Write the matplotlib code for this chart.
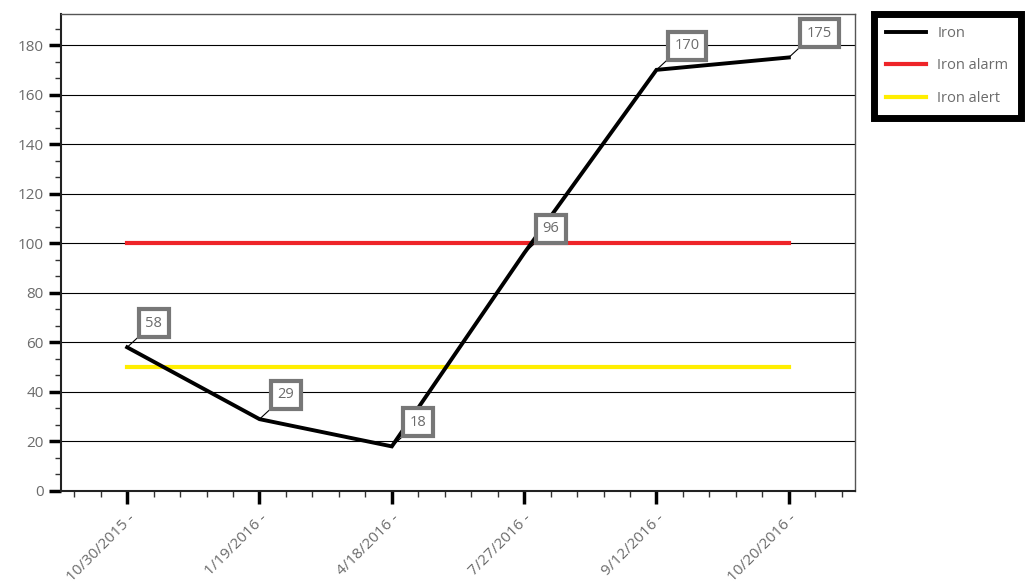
import matplotlib.pyplot as plt
from matplotlib.ticker import MultipleLocator

plt.rcParams['font.family'] = ['Open Sans', 'DejaVu Sans']

dates = ['10/30/2015 -', '1/19/2016 -', '4/18/2016 -', '7/27/2016 -', '9/12/2016 -', '10/20/2016 -']
iron = [58, 29, 18, 96, 170, 175]
iron_alarm = [100] * 6
iron_alert = [50] * 6

gray = '#6b6b6b'

fig = plt.figure(figsize=(10.27, 5.88), dpi=100)
ax = fig.add_axes([0.0594, 0.165, 0.7731, 0.811])

x = list(range(len(dates)))
ax.plot(x, iron_alarm, color='#ee2428', lw=3, label='Iron alarm', zorder=3)
ax.plot(x, iron_alert, color='#ffee00', lw=3, label='Iron alert', zorder=3)
ax.plot(x, iron, color='black', lw=2.8, label='Iron', zorder=4, solid_joinstyle='miter')

# boxed value labels with a thin leader line to each point
for xi, v in zip(x, iron):
    ax.annotate(str(v), (xi, v), xytext=(13, 12), textcoords='offset points',
                ha='left', va='bottom', color=gray, fontsize=10.5,
                bbox=dict(boxstyle='square,pad=0.45', fc='white', ec='#777777', lw=3),
                arrowprops=dict(arrowstyle='-', color='black', lw=0.8,
                                shrinkA=0, shrinkB=0, relpos=(0, 0)),
                zorder=5)

ax.set_xlim(-0.5, 5.5)
ax.set_ylim(0, 192.5)
ax.set_xticks(x)
ax.set_xticklabels(dates, rotation=45, ha='right', rotation_mode='anchor')
ax.xaxis.set_minor_locator(MultipleLocator(0.2))
ax.yaxis.set_major_locator(MultipleLocator(20))
ax.yaxis.set_minor_locator(MultipleLocator(20 / 3))

ax.grid(axis='y', which='major', color='black', lw=0.8, zorder=0)
ax.set_axisbelow(True)

ax.tick_params(which='major', length=9, width=2.5, color='black',
               labelcolor=gray, labelsize=11)
ax.tick_params(which='minor', length=4, width=1, color='#333333')
ax.tick_params(axis='x', pad=5)

for side in ['left', 'bottom']:
    ax.spines[side].set_linewidth(1.5)
    ax.spines[side].set_color('#222222')
for side in ['top', 'right']:
    ax.spines[side].set_linewidth(1)
    ax.spines[side].set_color('#555555')

handles, labels = ax.get_legend_handles_labels()
order = [2, 0, 1]
leg = fig.legend([handles[i] for i in order], [labels[i] for i in order],
                 loc='upper left', bbox_to_anchor=(0.851, 0.977),
                 frameon=True, fancybox=False, framealpha=1, fontsize=10.5,
                 handlelength=2.7, handletextpad=0.8, labelspacing=1.2,
                 borderpad=0.85, borderaxespad=0)
leg.get_frame().set_edgecolor('black')
leg.get_frame().set_linewidth(5)
for t in leg.get_texts():
    t.set_color(gray)

fig.savefig('out.png', dpi=100)
